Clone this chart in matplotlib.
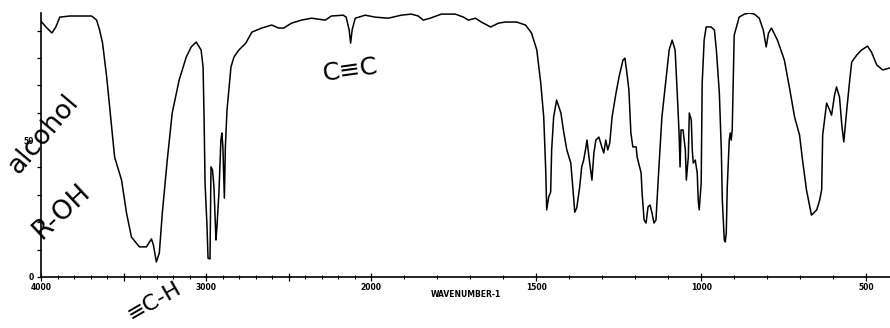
import numpy as np
import matplotlib
matplotlib.use("Agg")
import matplotlib.pyplot as plt
from matplotlib.ticker import FixedLocator, FixedFormatter

# --- 1. SPECTRUM DATA (wavenumber cm-1, transmittance %) ---
wavenumber = [
    4000, 3970, 3934, 3910, 3886, 3825, 3693, 3663, 3645, 3627,
    3602, 3584, 3554, 3512, 3482, 3452, 3404, 3361, 3331, 3319,
    3301, 3283, 3265, 3235, 3205, 3163, 3120, 3090, 3060, 3030,
    3018, 3012, 3006, 2994, 2988, 2976, 2970, 2961, 2952, 2940,
    2934, 2922, 2910, 2904, 2898, 2889, 2883, 2873, 2849, 2831,
    2801, 2759, 2723, 2663, 2602, 2560, 2530, 2482, 2422, 2361,
    2277, 2241, 2169, 2151, 2133, 2124, 2115, 2096, 2036, 1988,
    1948, 1909, 1878, 1857, 1842, 1821, 1787, 1745, 1720, 1705,
    1684, 1666, 1638, 1614, 1593, 1559, 1532, 1514, 1498, 1486,
    1477, 1471, 1468, 1462, 1456, 1453, 1447, 1438, 1425, 1416,
    1407, 1395, 1389, 1383, 1377, 1368, 1362, 1356, 1349, 1346,
    1340, 1334, 1331, 1325, 1319, 1310, 1301, 1295, 1289, 1283,
    1277, 1270, 1258, 1249, 1237, 1231, 1225, 1219, 1213, 1207,
    1197, 1194, 1182, 1179, 1173, 1167, 1161, 1155, 1149, 1143,
    1137, 1128, 1119, 1106, 1097, 1088, 1079, 1073, 1067, 1064,
    1061, 1055, 1048, 1045, 1039, 1036, 1030, 1027, 1024, 1018,
    1012, 1009, 1006, 1000, 997, 991, 985, 970, 960, 954,
    945, 939, 936, 930, 927, 924, 921, 915, 912, 909,
    906, 900, 885, 869, 854, 839, 824, 812, 803, 796,
    787, 769, 748, 733, 717, 702, 693, 681, 672, 666,
    650, 641, 635, 632, 620, 611, 605, 596, 590, 581,
    574, 568, 559, 550, 544, 529, 514, 496, 484, 468,
    450, 429,
]
transmittance = [
    93.4, 91.3, 89.1, 91.3, 94.9, 95.3, 95.3, 93.8, 90.2, 85.4,
    73.0, 62.1, 43.8, 35.4, 23.4, 14.6, 11.0, 11.0, 13.9, 11.7,
    5.5, 8.8, 23.4, 42.7, 59.9, 71.9, 80.3, 84.0, 85.8, 82.9,
    76.7, 58.4, 34.3, 18.3, 6.9, 6.6, 40.2, 39.1, 32.9, 13.5,
    18.3, 30.7, 50.0, 52.6, 47.5, 28.8, 47.5, 61.0, 76.7, 80.3,
    82.9, 85.4, 89.4, 90.9, 92.0, 90.9, 90.9, 92.7, 93.8, 94.5,
    93.8, 95.3, 95.6, 94.9, 90.2, 85.4, 90.2, 94.5, 95.6, 94.9,
    94.5, 95.6, 96.0, 95.3, 93.8, 94.5, 96.0, 96.0, 94.9, 93.8,
    94.5, 93.1, 91.3, 92.7, 93.1, 93.1, 92.0, 89.1, 82.9, 70.8,
    58.4, 39.1, 24.5, 29.2, 31.0, 46.4, 58.4, 64.6, 59.9, 52.6,
    46.4, 41.6, 32.9, 23.7, 25.2, 32.9, 40.2, 42.7, 47.5, 50.0,
    43.8, 38.0, 35.4, 45.3, 50.0, 51.1, 47.5, 45.3, 50.0, 46.4,
    48.9, 58.4, 67.2, 73.0, 79.2, 79.9, 74.5, 68.3, 52.6, 47.5,
    47.5, 43.8, 38.0, 30.7, 20.8, 19.7, 25.6, 26.3, 23.4, 19.7,
    20.8, 40.2, 58.4, 73.0, 82.9, 86.5, 82.9, 68.3, 52.6, 40.2,
    53.7, 53.7, 46.4, 35.4, 43.8, 59.9, 57.3, 46.4, 41.6, 42.7,
    38.0, 28.1, 24.5, 34.3, 70.8, 86.5, 91.3, 91.3, 90.2, 82.9,
    67.2, 46.4, 28.1, 13.5, 12.8, 16.1, 32.9, 50.0, 52.6, 50.0,
    53.7, 88.3, 94.9, 96.0, 96.4, 96.0, 94.5, 90.2, 84.0, 89.1,
    90.9, 86.5, 79.2, 69.4, 58.4, 51.8, 42.7, 31.8, 26.3, 22.6,
    24.5, 28.1, 31.8, 51.8, 63.5, 61.0, 59.1, 66.4, 69.4, 65.7,
    55.5, 49.3, 61.0, 71.9, 78.5, 81.0, 82.9, 84.3, 82.1, 77.4,
    75.6, 76.3,
]

x_major = [4000, 3500, 3000, 2500, 2000, 1500, 1000, 500]
x_labels = ["4000", "", "3000", "", "2000", "1500", "1000", "500"]
x_minor = list(range(4000, 399, -100))
y_major = list(range(0, 100, 10))
y_labels = ["0", "", "", "", "", "50", "", "", "", ""]


# --- 2. X SCALE: half density above 2000 cm-1 ---
def wn_forward(w):
    w = np.asarray(w, dtype=float)
    return np.where(w >= 2000, w / 2 + 1000, w)


def wn_inverse(u):
    u = np.asarray(u, dtype=float)
    return np.where(u >= 2000, (u - 1000) * 2, u)


W, H = 890, 328
fig = plt.figure(figsize=(W / 100, H / 100), dpi=100)
ax = fig.add_axes([41 / W, 1 - 277 / H, (W - 41) / W, (277 - 13) / H])

ax.set_xscale("function", functions=(wn_forward, wn_inverse))
ax.plot(wavenumber, transmittance, color="black", lw=1.1)
ax.set_xlim(4000, 428)
ax.set_ylim(0, 96.4)

for side in ("top", "right"):
    ax.spines[side].set_visible(False)
ax.spines["left"].set_linewidth(1.2)
ax.spines["bottom"].set_linewidth(1.2)

ax.xaxis.set_major_locator(FixedLocator(x_major))
ax.xaxis.set_major_formatter(FixedFormatter(x_labels))
ax.xaxis.set_minor_locator(FixedLocator(x_minor))
ax.yaxis.set_major_locator(FixedLocator(y_major))
ax.yaxis.set_major_formatter(FixedFormatter(y_labels))

tick_font = dict(labelsize=5.5, width=0.9, color="black")
ax.tick_params(axis="x", which="major", direction="inout", length=6, pad=1, **tick_font)
ax.tick_params(axis="x", which="minor", direction="inout", length=3, width=0.8)
ax.tick_params(axis="y", which="major", direction="out", length=3, pad=2, **tick_font)
for lbl in ax.get_xticklabels() + ax.get_yticklabels():
    lbl.set_fontweight("bold")

ax.set_xlabel("WAVENUMBER-1", fontsize=5.5, fontweight="bold", labelpad=-1)


# --- 3. HANDWRITTEN NOTES ---
def note(text, px, py, rot, size):
    fig.text(px / W, 1 - py / H, text, rotation=rot, fontsize=size,
             ha="center", va="center", rotation_mode="anchor", color="black")


note("alcohol", 43, 134, 50, 19)
note("R-OH", 62, 212, 43, 19)
note("\u2261C-H", 154, 301, 30, 16)
note("C\u2261C", 350, 70, 8, 18)

fig.savefig("out.png", dpi=100)
